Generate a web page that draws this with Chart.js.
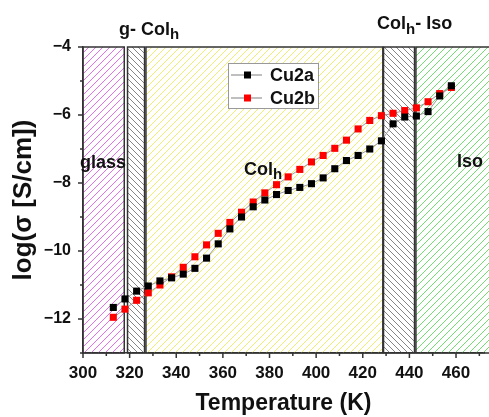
<!DOCTYPE html>
<html>
<head>
<meta charset="utf-8">
<script src="https://cdn.jsdelivr.net/npm/chart.js@4.4.0/dist/chart.umd.min.js"></script>
<style>
  html, body { margin: 0; padding: 0; background: #fff; }
  #wrap { width: 489px; height: 417px; }
</style>
</head>
<body>
<div id="wrap"><canvas id="myChart" width="489" height="417"></canvas></div>
<script>
var temps = [313, 318, 323, 328, 333, 338, 343, 348, 353, 358, 363, 368, 373, 378, 383,
             388, 393, 398, 403, 408, 413, 418, 423, 428, 433, 438, 443, 448, 453, 458];
var cu2a = [-11.66, -11.41, -11.18, -11.03, -10.88, -10.79, -10.68, -10.51, -10.21, -9.79,
            -9.35, -9.0, -8.70, -8.50, -8.34, -8.22, -8.13, -8.02, -7.85, -7.58,
            -7.34, -7.19, -7.0, -6.76, -6.26, -6.06, -6.03, -5.90, -5.44, -5.14];
var cu2b = [-11.95, -11.71, -11.45, -11.23, -11.0, -10.76, -10.48, -10.17, -9.82, -9.48,
            -9.16, -8.86, -8.56, -8.29, -8.05, -7.82, -7.60, -7.38, -7.19, -6.98,
            -6.74, -6.41, -6.16, -6.02, -5.95, -5.87, -5.79, -5.61, -5.37, -5.19];
var seriesNames = ["Cu2a", "Cu2b"];

// phase bands, in K
var bandFrom = [300, 319.1, 327.0, 428.9, 442.8];
var bandTo = [317.7, 326.4, 428.6, 442.2, 480];

var FONT = '"Liberation Sans", Arial, sans-serif';

var bandStyle = [
  { color: "#e048e8", dir: 1, gap: 7 },
  { color: "#666", dir: -1, gap: 6 },
  { color: "#eee84a", dir: 1, gap: 7 },
  { color: "#666", dir: -1, gap: 6 },
  { color: "#48d848", dir: 1, gap: 7 }
];

// diagonal hatch lines clipped to a box
function hatchBox(ctx, x0, y0, x1, y1, st) {
  var s = st.gap, h = y1 - y0;
  ctx.save();
  ctx.beginPath();
  ctx.rect(x0, y0, x1 - x0, h);
  ctx.clip();
  ctx.strokeStyle = st.color;
  ctx.lineWidth = 0.8;
  ctx.beginPath();
  for (var k = Math.floor((x0 - h) / s) * s; k < x1 + h; k += s) {
    if (st.dir > 0) { ctx.moveTo(k, y1); ctx.lineTo(k + h, y0); }
    else { ctx.moveTo(k, y0); ctx.lineTo(k + h, y1); }
  }
  ctx.stroke();
  ctx.restore();
}

// text with a subscript part: [text, size, dy]
function richText(ctx, parts, x, y) {
  parts.forEach(function (p) {
    ctx.font = "bold " + p[1] + "px " + FONT;
    ctx.fillText(p[0], x, y + p[2]);
    x += ctx.measureText(p[0]).width;
  });
}

var bgPlugin = {
  id: "bg",
  beforeDraw: function (chart) {
    var ctx = chart.ctx;
    ctx.save();
    ctx.fillStyle = "#fff";
    ctx.fillRect(0, 0, chart.width, chart.height);
    ctx.restore();
  }
};

var bandsPlugin = {
  id: "bands",
  beforeDatasetsDraw: function (chart) {
    var ctx = chart.ctx, x = chart.scales.x, y = chart.scales.y, a = chart.chartArea;
    ctx.save();
    for (var i = 0; i < bandFrom.length; i++) {
      var x0 = x.getPixelForValue(bandFrom[i]);
      var x1 = x.getPixelForValue(bandTo[i]);
      hatchBox(ctx, x0, a.top, x1, a.bottom, bandStyle[i]);
      ctx.strokeStyle = "#333";
      ctx.lineWidth = 1.5;
      ctx.strokeRect(x0, a.top, x1 - x0, a.bottom - a.top);
    }
    // tick marks, outward
    ctx.strokeStyle = "#333";
    ctx.lineWidth = 1.5;
    ctx.beginPath();
    x.ticks.forEach(function (t) {
      var px = x.getPixelForValue(t.value);
      var len = t.value % 20 === 0 ? 5 : 3;
      ctx.moveTo(px, a.bottom); ctx.lineTo(px, a.bottom + len);
    });
    y.ticks.forEach(function (t) {
      var py = y.getPixelForValue(t.value);
      var len = t.value % 2 === 0 ? 5 : 3;
      ctx.moveTo(a.left, py); ctx.lineTo(a.left - len, py);
    });
    ctx.stroke();
    ctx.restore();
  },
  afterDatasetsDraw: function (chart) {
    var ctx = chart.ctx;
    ctx.save();
    ctx.fillStyle = "#111";
    ctx.textBaseline = "alphabetic";
    richText(ctx, [["g- Col", 18, 0], ["h", 15, 4]], 119, 35);
    richText(ctx, [["Col", 18, 0], ["h", 15, 5], ["- Iso", 18, 0]], 377, 29);
    richText(ctx, [["glass", 18, 0]], 80, 168);
    richText(ctx, [["Col", 18, 0], ["h", 15, 4]], 244, 175);
    richText(ctx, [["Iso", 18, 0]], 457, 167);

    // legend
    ctx.fillStyle = "#fff";
    ctx.fillRect(228, 63, 90, 45);
    ctx.strokeStyle = "#999";
    ctx.lineWidth = 1;
    ctx.strokeRect(228.5, 63.5, 90, 45);
    chart.data.datasets.forEach(function (ds, i) {
      var ly = 75 + i * 23;
      ctx.strokeStyle = "#aaa";
      ctx.lineWidth = 1.5;
      ctx.beginPath();
      ctx.moveTo(231, ly); ctx.lineTo(262, ly);
      ctx.stroke();
      ctx.fillStyle = ds.pointBackgroundColor;
      ctx.fillRect(244, ly - 3.5, 7, 7);
      ctx.fillStyle = "#111";
      ctx.font = "bold 18px " + FONT;
      ctx.textBaseline = "middle";
      ctx.fillText(ds.label, 270, ly + 1);
    });
    ctx.restore();
  }
};

function points(ys) {
  return temps.map(function (t, i) { return { x: t, y: ys[i] }; });
}

var ctx = document.getElementById("myChart").getContext("2d");

new Chart(ctx, {
  type: "line",
  data: {
    datasets: [
      {
        label: seriesNames[0],
        data: points(cu2a),
        borderColor: "#999",
        borderWidth: 1,
        pointStyle: "rect",
        pointRadius: 5,
        pointBorderWidth: 0,
        pointBackgroundColor: "#000",
        pointBorderColor: "#000"
      },
      {
        label: seriesNames[1],
        data: points(cu2b),
        borderColor: "#999",
        borderWidth: 1,
        pointStyle: "rect",
        pointRadius: 5,
        pointBorderWidth: 0,
        pointBackgroundColor: "#ff0000",
        pointBorderColor: "#ff0000"
      }
    ]
  },
  options: {
    responsive: false,
    animation: false,
    layout: { padding: { top: 47, right: 0, bottom: 0, left: 0 } },
    plugins: {
      legend: { display: false },
      tooltip: { enabled: false }
    },
    scales: {
      x: {
        type: "linear",
        min: 300,
        max: 472,
        afterFit: function (s) { s.height = 64; },
        border: { display: true, color: "#333", width: 1.5 },
        grid: { display: false },
        ticks: {
          stepSize: 10,
          includeBounds: false,
          autoSkip: false,
          maxRotation: 0,
          padding: 2,
          color: "#111",
          font: { family: FONT, weight: "bold", size: 17 },
          callback: function (v) { return v % 20 === 0 ? String(v) : ""; }
        },
        title: {
          display: true,
          text: "Temperature (K)",
          color: "#111",
          font: { family: FONT, weight: "bold", size: 23 },
          padding: { top: 0, bottom: 0 }
        }
      },
      y: {
        min: -13,
        max: -4,
        afterFit: function (s) { s.width = 83; },
        border: { display: true, color: "#333", width: 1.5 },
        grid: { display: false },
        ticks: {
          stepSize: 1,
          autoSkip: false,
          padding: 4,
          color: "#111",
          font: { family: FONT, weight: "bold", size: 16 },
          callback: function (v) { return v % 2 === 0 ? "\u2212" + Math.abs(v) : ""; }
        },
        title: {
          display: true,
          text: "log(\u03c3 [S/cm])",
          color: "#111",
          font: { family: FONT, weight: "bold", size: 26 },
          padding: { top: 8, bottom: 0 }
        }
      }
    }
  },
  plugins: [bgPlugin, bandsPlugin]
});
</script>
</body>
</html>
